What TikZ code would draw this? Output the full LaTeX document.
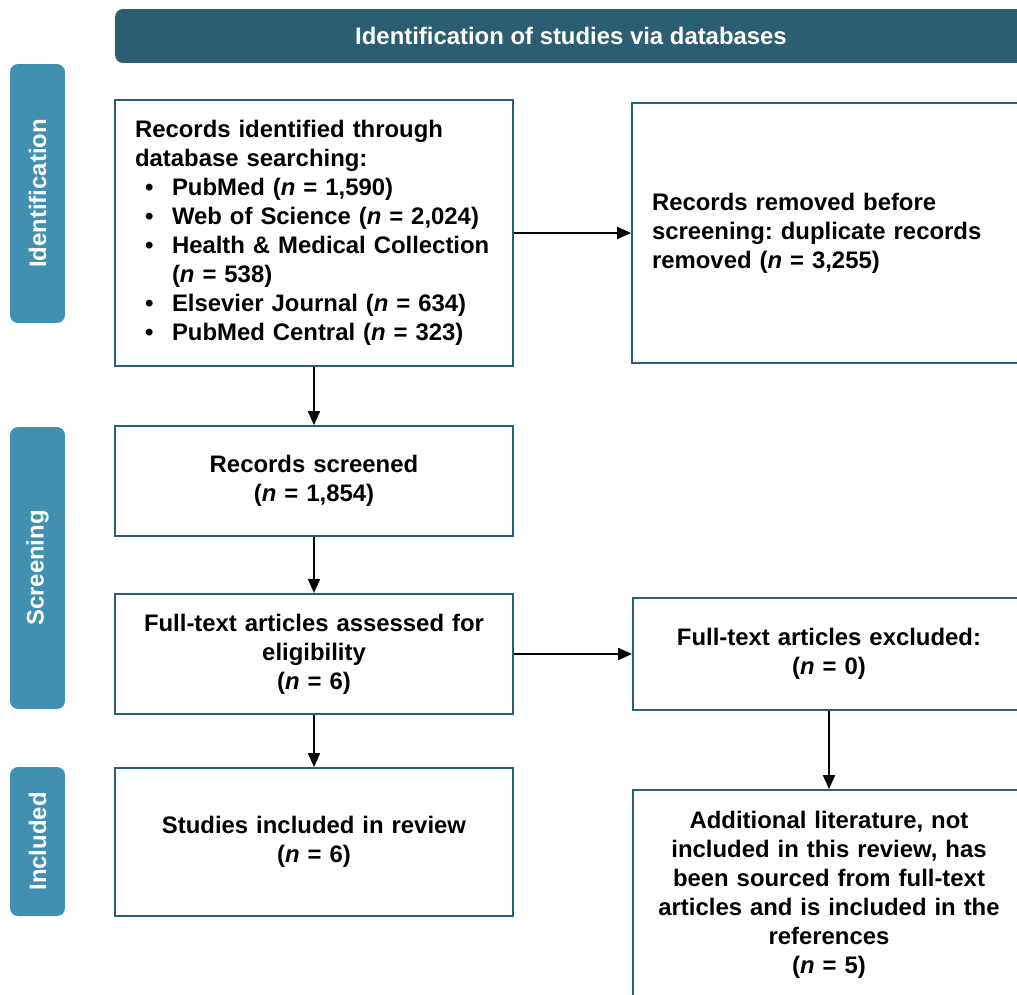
\documentclass[tikz,border=0pt]{standalone}
\usepackage{fontspec}
\setmainfont{Liberation Sans}
\frenchspacing
\definecolor{PrismaDark}{HTML}{2B5E72}
\definecolor{PrismaSide}{HTML}{4190B2}
\usetikzlibrary{arrows.meta, positioning}
\newcommand{\blt}{\makebox[0.74cm][l]{\hspace{0.2cm}\textbullet}}
\tikzset{
  txt/.style={font=\fontsize{13.6}{16.5}\selectfont\bfseries},
  box/.style={txt, draw=PrismaDark, line width=1.1pt, fill=white, inner sep=0.4cm},
  phase/.style={txt, fill=PrismaSide, text=white, rounded corners=0.16cm, rotate=90,
    minimum height=1.1cm, inner sep=0pt},
  flow/.style={line width=1.1pt, -{Triangle[length=0.28cm, width=0.24cm]}}
}

\begin{document}
\begin{tikzpicture}[x=0.02cm, y=-0.02cm]
\useasboundingbox (0,0) rectangle (1017,994);
\clip (0,0) rectangle (1017,994);
% header and phase labels
\node[txt, fill=PrismaDark, text=white, rounded corners=0.16cm, minimum width=18.24cm,
  minimum height=1.08cm, inner sep=0pt] (head) at (571,36) {Identification of studies via databases};
\node[phase, minimum width=5.18cm] (pid) at (37.5,193.5) {Identification};
\node[phase, minimum width=5.64cm] (pscr) at (37.5,568) {Screening};
\node[phase, minimum width=2.98cm] (pinc) at (37.5,841.5) {Included};
% boxes, left column top to bottom, then right column
\node[box, align=left, text width=7.16cm, minimum height=5.2cm] (ident) at (314,233) {Records identified through\\
  database searching:\\
  \blt PubMed (\textit{n} = 1,590)\\
  \blt Web of Science (\textit{n} = 2,024)\\
  \blt Health \& Medical Collection\\
  \hspace*{0.74cm}(\textit{n} = 538)\\
  \blt Elsevier Journal (\textit{n} = 634)\\
  \blt PubMed Central (\textit{n} = 323)};
\node[box, align=center, text width=7.16cm, minimum height=2.2cm] (scr) at (314,481) {Records screened\\(\textit{n} = 1,854)};
\node[box, align=center, text width=7.16cm, minimum height=2.24cm] (full) at (314,654) {Full-text articles assessed for\\eligibility\\(\textit{n} = 6)};
\node[box, align=center, text width=7.16cm, minimum height=2.96cm] (incl) at (314,842) {Studies included in review\\(\textit{n} = 6)};
\node[box, align=left, text width=7.08cm, minimum height=5.2cm] (dupl) at (829,233) {Records removed before\\screening: duplicate records\\removed (\textit{n} = 3,255)};
\node[box, align=center, text width=7.04cm, minimum height=2.24cm] (excl) at (829,654) {Full-text articles excluded:\\(\textit{n} = 0)};
\node[box, align=center, text width=7.04cm, minimum height=4.2cm] (addl) at (829,895) {Additional literature, not\\
  included in this review, has\\
  been sourced from full-text\\
  articles and is included in the\\
  references\\
  (\textit{n} = 5)};
% connectors
\draw[flow] (ident.east) -- (dupl.west);
\draw[flow] (ident.south) -- (scr.north);
\draw[flow] (scr.south) -- (full.north);
\draw[flow] (full.east) -- (excl.west);
\draw[flow] (full.south) -- (incl.north);
\draw[flow] (excl.south) -- (addl.north);
\end{tikzpicture}
\end{document}
